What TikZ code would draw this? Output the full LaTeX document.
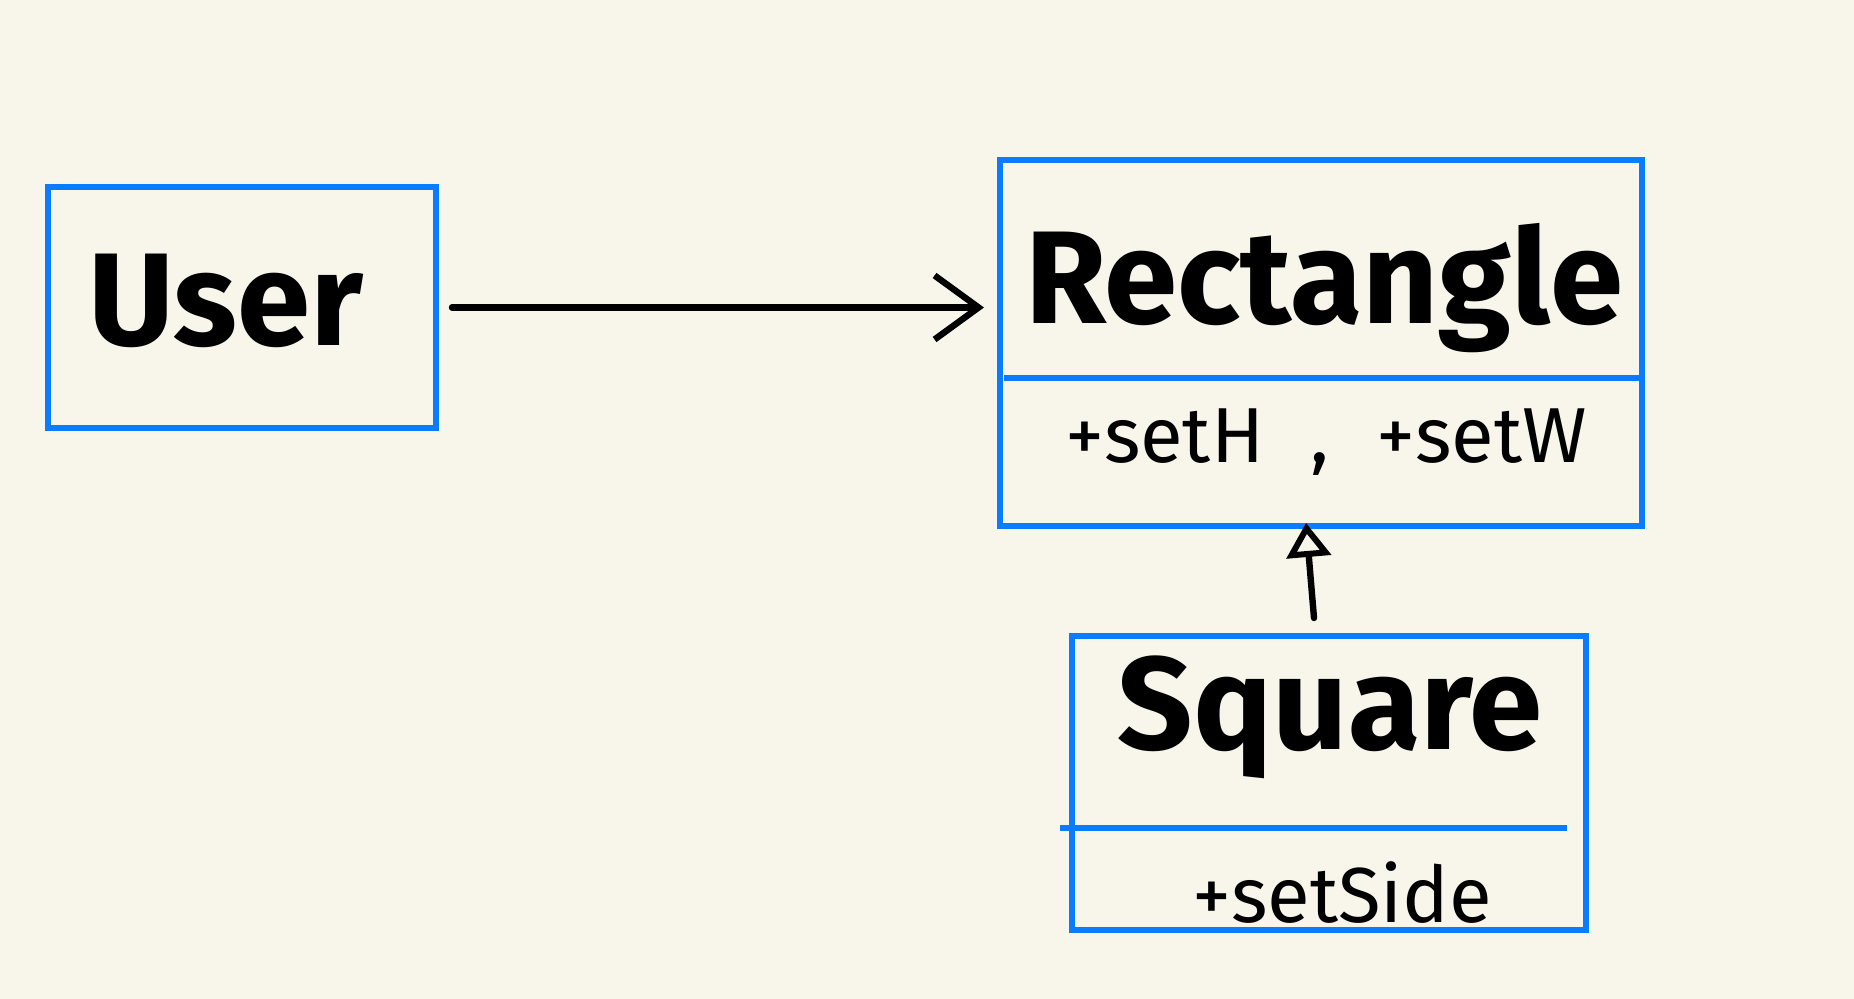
\documentclass[tikz,border=0pt]{standalone}
\usepackage{fontspec}
\setmainfont{Fira Sans}
\usetikzlibrary{arrows.meta,calc}
\definecolor{bgc}{HTML}{F8F6EA}
\definecolor{boxblue}{HTML}{0A7CFF}
\tikzset{
  box/.style={draw=boxblue, line width=3pt, rectangle, inner sep=0pt},
  divider/.style={draw=boxblue, line width=3pt},
  title/.style={font=\fontsize{66}{72}\selectfont\bfseries, anchor=base, inner sep=0pt},
  method/.style={font=\fontsize{39}{44}\selectfont, anchor=center, inner sep=0pt},
  assoc/.style={draw=black, line width=3.2pt, line cap=round,
    -{Straight Barb[length=22pt,width=32pt,line width=3.2pt]}},
  inherit/.style={draw=black, line width=3.2pt, line cap=round,
    -{Triangle[open,length=17pt,width=22pt,line width=3pt,fill=bgc]}}
}
\begin{document}
\begin{tikzpicture}[x=0.5pt,y=-0.5pt]
\fill[bgc] (0,0) rectangle (1854,999);
\useasboundingbox (0,0) rectangle (1854,999);
% boxes
\node[box, minimum width=194pt, minimum height=120.5pt] (user) at (242,307.5) {};
\node[box, minimum width=321pt, minimum height=183pt] (rect) at (1321,343) {};
\node[box, minimum width=257pt, minimum height=147pt] (sq) at (1329,783) {};
% dividers
\draw[divider] ($(rect.west)+(7,35)$) -- ($(rect.east)+(-2,35)$);
\draw[divider] ($(sq.west)+(-9,45)$) -- ($(sq.east)+(-22,45)$);
% titles
\node[title] (usert) at (226,346) {User};
\node[title] (rectt) at (1324,324) {Rectangle};
\node[title] (sqt) at (1330,750) {Square};
% methods
\node[method] (rectm) at (1326,442) {+setH\hspace{0.6em},\hspace{0.6em}+setW};
\node[method] (sqm) at (1342,893) {+setSide};
% connectors
\draw[assoc, shorten <=6.5pt, shorten >=6.5pt] (user.east) -- (user.east -| rect.west);
\coordinate (sqtop) at ($(sq.north)+(-15,-15)$);
\coordinate (recbot) at ($(rect.south)+(-15,-6)$);
\draw[inherit] (sqtop) -- (recbot);
\end{tikzpicture}
\end{document}
